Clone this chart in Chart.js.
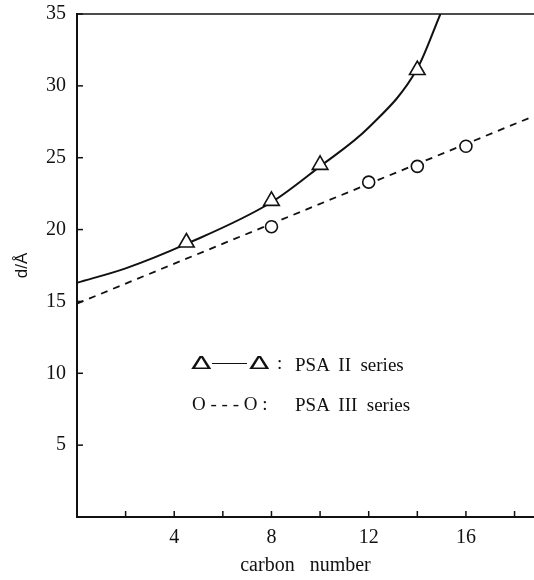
<!DOCTYPE html>
<html>
<head>
<meta charset="utf-8">
<script src="https://cdn.jsdelivr.net/npm/chart.js@4"></script>
<style>
  html, body { margin: 0; padding: 0; background: #fff; }
  #wrap { position: relative; width: 534px; height: 580px; }
  .leg { position: absolute; font-family: "Liberation Serif", serif; font-size: 19px; color: #111; white-space: pre; line-height: 20px; }
  .tri { position: absolute; font-family: "DejaVu Sans", sans-serif; font-size: 24px; line-height: 24px; color: #111; transform: scale(1.25, 0.72); transform-origin: center; }
  .rule { position: absolute; height: 0; border-top: 1.6px solid #111; }
</style>
</head>
<body>
<div id="wrap">
  <canvas id="chart" width="534" height="580"></canvas>
  <div class="tri" style="left:193px; top:351px;">Δ</div>
  <div class="rule" style="left:212px; top:363px; width:35px;"></div>
  <div class="tri" style="left:251px; top:351px;">Δ</div>
  <div class="leg" style="left:277px; top:353px;">:</div>
  <div class="leg" style="left:295px; top:355px;">PSA  II  series</div>
  <div class="leg" style="left:192px; top:394px;">O - - - O :</div>
  <div class="leg" style="left:295px; top:395px;">PSA  III  series</div>
</div>
<script>
// PSA II (triangles) and PSA III (circles), d spacing vs carbon number
const carbonII = [4.5, 8, 10, 14];
const spacingII = [19.1, 22.0, 24.5, 31.1];
const carbonIII = [8, 12, 14, 16];
const spacingIII = [20.2, 23.3, 24.4, 25.8];

// solid guide curve traced through the PSA II points
const curveCarbon = [0, 2, 4.5, 8, 10, 12, 14, 14.95];
const curveSpacing = [16.3, 17.3, 19.0, 21.9, 24.4, 27.1, 31.2, 35];

// dashed straight line through the PSA III points
const lineCarbon = [0, 18.8];
const lineSpacing = [14.85, 27.9];

const xLabelTicks = [4, 8, 12, 16];
const xAllTicks = [2, 4, 6, 8, 10, 12, 14, 16, 18];
const yTicks = [5, 10, 15, 20, 25, 30, 35];

const toPoints = (xs, ys) => xs.map((x, i) => ({ x, y: ys[i] }));

const axesDeco = {
  id: 'axesDeco',
  afterDatasetsDraw(chart) {
    const { ctx, chartArea, scales: { x, y } } = chart;
    ctx.save();
    ctx.strokeStyle = '#111';
    ctx.lineWidth = 1.5;
    // top border line
    ctx.beginPath();
    ctx.moveTo(chartArea.left, chartArea.top);
    ctx.lineTo(chart.width, chartArea.top);
    ctx.stroke();
    // inward ticks
    yTicks.forEach(v => {
      const py = y.getPixelForValue(v);
      ctx.beginPath();
      ctx.moveTo(chartArea.left, py);
      ctx.lineTo(chartArea.left + 6, py);
      ctx.stroke();
    });
    xAllTicks.forEach(v => {
      const px = x.getPixelForValue(v);
      ctx.beginPath();
      ctx.moveTo(px, chartArea.bottom);
      ctx.lineTo(px, chartArea.bottom - 6);
      ctx.stroke();
    });
    ctx.restore();
  }
};

new Chart(document.getElementById('chart'), {
  type: 'scatter',
  data: {
    datasets: [
      {
        label: 'PSA II curve',
        data: toPoints(curveCarbon, curveSpacing),
        showLine: true,
        borderColor: '#111',
        borderWidth: 2,
        pointRadius: 0,
        cubicInterpolationMode: 'monotone',
        order: 3
      },
      {
        label: 'PSA III line',
        data: toPoints(lineCarbon, lineSpacing),
        showLine: true,
        borderColor: '#111',
        borderWidth: 1.8,
        borderDash: [7, 6],
        pointRadius: 0,
        order: 3
      },
      {
        label: 'PSA II series',
        data: toPoints(carbonII, spacingII),
        pointStyle: 'triangle',
        pointRadius: 9,
        borderColor: '#111',
        borderWidth: 1.6,
        backgroundColor: '#fff',
        order: 1
      },
      {
        label: 'PSA III series',
        data: toPoints(carbonIII, spacingIII),
        pointStyle: 'circle',
        pointRadius: 6,
        borderColor: '#111',
        borderWidth: 1.6,
        backgroundColor: '#fff',
        order: 1
      }
    ]
  },
  options: {
    responsive: false,
    animation: false,
    events: [],
    layout: { autoPadding: false, padding: { top: 14, right: 0, bottom: 0, left: 0 } },
    plugins: { legend: { display: false }, tooltip: { enabled: false } },
    scales: {
      x: {
        type: 'linear',
        min: 0,
        max: 18.8,
        afterFit: s => { s.height = 63; s.paddingLeft = 0; s.paddingRight = 0; },
        afterBuildTicks: s => { s.ticks = xLabelTicks.map(v => ({ value: v })); },
        grid: { display: false, drawTicks: false },
        border: { display: true, color: '#111', width: 2 },
        ticks: {
          color: '#111',
          padding: 9,
          font: { family: 'Liberation Serif', size: 20 }
        },
        title: {
          display: true,
          text: 'carbon   number',
          color: '#111',
          padding: { top: 0, bottom: 2 },
          font: { family: 'Liberation Serif', size: 20 }
        }
      },
      y: {
        type: 'linear',
        min: 0,
        max: 35,
        afterFit: s => { s.width = 77; s.paddingTop = 0; s.paddingBottom = 0; },
        afterBuildTicks: s => { s.ticks = yTicks.map(v => ({ value: v })); },
        grid: { display: false, drawTicks: false },
        border: { display: true, color: '#111', width: 2 },
        ticks: {
          color: '#111',
          padding: 11,
          font: { family: 'Liberation Serif', size: 20 }
        },
        title: {
          display: true,
          text: 'd/Å',
          color: '#111',
          padding: { top: 12, bottom: 0 },
          font: { family: 'Liberation Sans', size: 17 }
        }
      }
    }
  },
  plugins: [axesDeco]
});
</script>
</body>
</html>
